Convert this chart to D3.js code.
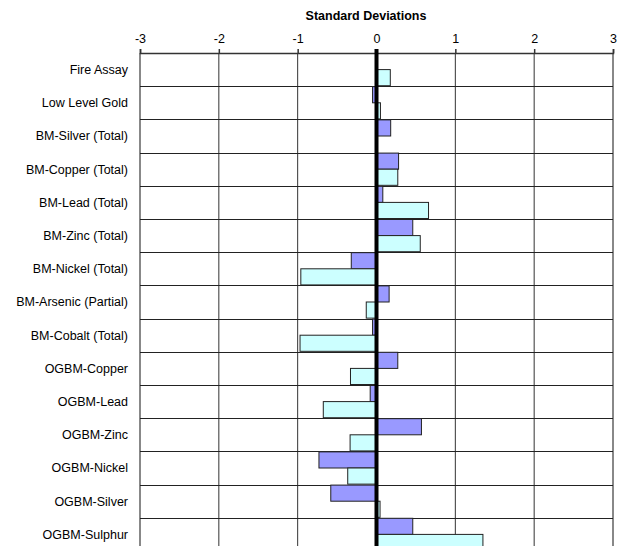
<!DOCTYPE html>
<html lang="en">
<head>
<meta charset="utf-8" />
<title>Standard Deviations</title>
<script src="https://cdn.jsdelivr.net/npm/d3@7/dist/d3.min.js"></script>
<style>
  body { margin: 0; background: #fff; font-family: "Liberation Sans", Arial, sans-serif; }
  svg { display: block; }
  .tick text { font-size: 12.5px; fill: #000; }
  .cat { font-size: 12.5px; fill: #000; }
</style>
</head>
<body>
<div id="chart"></div>
<script>
// categories, top to bottom
var categories = ["Fire Assay", "Low Level Gold", "BM-Silver (Total)", "BM-Copper (Total)",
  "BM-Lead (Total)", "BM-Zinc (Total)", "BM-Nickel (Total)", "BM-Arsenic (Partial)",
  "BM-Cobalt (Total)", "OGBM-Copper", "OGBM-Lead", "OGBM-Zinc", "OGBM-Nickel",
  "OGBM-Silver", "OGBM-Sulphur"];

// purple series (upper bar in each row)
var series1 = [0, -0.05, 0.18, 0.28, 0.08, 0.46, -0.32, 0.16, -0.05, 0.27, -0.08, 0.57, -0.73, -0.58, 0.46];
// light cyan series (lower bar in each row)
var series2 = [0.175, 0.05, 0, 0.27, 0.66, 0.555, -0.96, -0.13, -0.97, -0.33, -0.675, -0.335, -0.365, 0.045, 1.35];

var tickValues = [-3, -2, -1, 0, 1, 2, 3];
var seriesNames = ["s1", "s2"];
var seriesColors = ["#9999ff", "#ccffff"];

var width = 620, height = 546;
var plotLeft = 140, plotRight = 613, plotTop = 53;
var rowH = 33.2;

var svg = d3.select("#chart").append("svg")
    .attr("width", width)
    .attr("height", height);

var x = d3.scaleLinear().domain([-3, 3]).range([plotLeft, plotRight]);
var y = d3.scaleBand().domain(categories).range([plotTop, plotTop + rowH * categories.length]).padding(0);
var y2 = d3.scaleBand().domain(seriesNames).range([0, y.bandwidth()]).paddingOuter(0.03).paddingInner(0);

var plotBottom = plotTop + rowH * categories.length;

// vertical grid lines
svg.append("g").selectAll("line")
  .data(tickValues.filter(function(d) { return d !== 0; }))
  .enter().append("line")
    .attr("x1", function(d) { return x(d); })
    .attr("x2", function(d) { return x(d); })
    .attr("y1", plotTop).attr("y2", plotBottom)
    .attr("stroke", function(d) { return (d === -3 || d === 3) ? "#888" : "#333"; })
    .attr("stroke-width", function(d) { return (d === -3 || d === 3) ? 2 : 1; });

// horizontal row lines
svg.append("g").selectAll("line")
  .data(categories)
  .enter().append("line")
    .attr("x1", plotLeft).attr("x2", plotRight)
    .attr("y1", function(d) { return Math.round(y(d)) + 0.5; })
    .attr("y2", function(d) { return Math.round(y(d)) + 0.5; })
    .attr("stroke", "#222")
    .attr("stroke-width", 1);

// bars
var rows = svg.append("g").selectAll("g")
  .data(categories)
  .enter().append("g")
    .attr("transform", function(d) { return "translate(0," + y(d) + ")"; });

rows.selectAll("rect")
  .data(function(d, i) { return [{k: "s1", v: series1[i]}, {k: "s2", v: series2[i]}]; })
  .enter().filter(function(d) { return d.v !== 0; }).append("rect")
    .attr("x", function(d) { return x(Math.min(0, d.v)); })
    .attr("width", function(d) { return Math.abs(x(d.v) - x(0)); })
    .attr("y", function(d) { return y2(d.k); })
    .attr("height", y2.bandwidth())
    .attr("fill", function(d) { return seriesColors[seriesNames.indexOf(d.k)]; })
    .attr("stroke", "#222")
    .attr("stroke-width", 1);

// top axis (hyphen minus as in the original)
var axis = svg.append("g")
    .attr("transform", "translate(0," + plotTop + ")")
    .call(d3.axisTop(x).tickValues(tickValues).tickSize(4).tickPadding(6)
      .tickFormat(function(d) { return String(d); }));
axis.select(".domain").attr("stroke", "#333").attr("stroke-width", 1.5);
axis.selectAll(".tick line").attr("stroke", "#333").attr("stroke-width", 1.5);
axis.selectAll(".tick text").attr("font-family", "Liberation Sans, Arial, sans-serif");

// zero line
svg.append("line")
    .attr("x1", x(0)).attr("x2", x(0))
    .attr("y1", plotTop - 4).attr("y2", plotBottom)
    .attr("stroke", "#000")
    .attr("stroke-width", 4);

// category labels
svg.append("g").selectAll("text")
  .data(categories)
  .enter().append("text")
    .attr("class", "cat")
    .attr("x", 128)
    .attr("y", function(d) { return y(d) + y.bandwidth() / 2; })
    .attr("dy", "0.35em")
    .attr("text-anchor", "end")
    .text(function(d) { return d; });

// title
svg.append("text")
    .attr("x", 366)
    .attr("y", 20)
    .attr("text-anchor", "middle")
    .attr("font-size", "12.5px")
    .attr("font-weight", "bold")
    .text("Standard Deviations");
</script>
</body>
</html>
